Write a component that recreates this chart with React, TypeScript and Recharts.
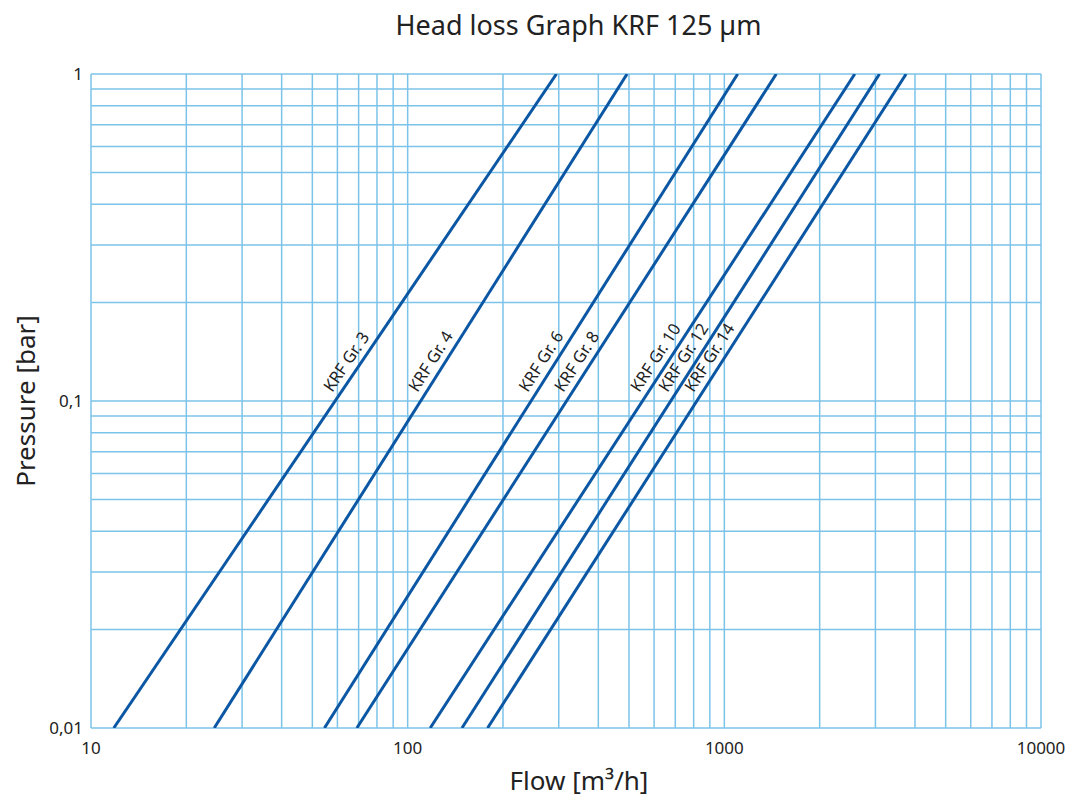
import React from "react";
import { LineChart, Line, XAxis, YAxis, CartesianGrid, ReferenceDot } from "recharts";

// KRF filter sizes, each drawn as a straight line on log-log paper
const grades = ["KRF Gr. 3", "KRF Gr. 4", "KRF Gr. 6", "KRF Gr. 8", "KRF Gr. 10", "KRF Gr. 12", "KRF Gr. 14"];
// flow [m3/h] where each line crosses 0,01 bar and 1 bar
const flowAtLow = [11.8, 24.5, 54.6, 69.1, 117.8, 148.4, 178.8];
const flowAtHigh = [295, 493, 1102, 1459, 2582, 3090, 3750];
const pressureRange = [0.01, 1];

const xTicks = [
  10, 20, 30, 40, 50, 60, 70, 80, 90,
  100, 200, 300, 400, 500, 600, 700, 800, 900,
  1000, 2000, 3000, 4000, 5000, 6000, 7000, 8000, 9000,
  10000,
];
const yTicks = [
  0.01, 0.02, 0.03, 0.04, 0.05, 0.06, 0.07, 0.08, 0.09,
  0.1, 0.2, 0.3, 0.4, 0.5, 0.6, 0.7, 0.8, 0.9,
  1,
];
const xLabels: Record<number, string> = { 10: "10", 100: "100", 1000: "1000", 10000: "10000" };
const yLabels: Record<number, string> = { 0.01: "0,01", 0.1: "0,1", 1: "1" };

const W = 1075;
const H = 804;
const M = { top: 74, right: 34, bottom: 76, left: 91 };
const plotW = W - M.left - M.right;
const plotH = H - M.top - M.bottom;
const LABEL_P = 0.103;

const GRID = "#7cc3ea";
const LINE = "#0b57a4";
const FONT = "'Noto Sans', sans-serif";

const series = grades.map((name, i) => ({
  name,
  data: [
    { q: flowAtLow[i], p: pressureRange[0] },
    { q: flowAtHigh[i], p: pressureRange[1] },
  ],
}));

function labelPoint(i: number) {
  const l0 = Math.log10(flowAtLow[i]);
  const l1 = Math.log10(flowAtHigh[i]);
  const t = (Math.log10(LABEL_P) - Math.log10(pressureRange[0])) / 2;
  const q = Math.pow(10, l0 + t * (l1 - l0));
  const dx = ((l1 - l0) * plotW) / 3;
  const angle = (Math.atan2(plotH, dx) * 180) / Math.PI;
  return { q, angle };
}

export default function App() {
  return (
    <div style={{ position: "absolute", left: 0, top: 0, width: W, height: H, fontFamily: FONT, background: "#fff" }}>
      <div style={{ position: "absolute", top: 6, left: 0, width: W, paddingLeft: 41, textAlign: "center", fontSize: 27, color: "#222" }}>
        Head loss Graph KRF 125 µm
      </div>
      <LineChart width={W} height={H} margin={{ top: M.top, right: M.right, left: 0, bottom: 0 }}>
        <CartesianGrid stroke={GRID} strokeWidth={1.5} horizontalValues={yTicks} verticalValues={xTicks} />
        <XAxis
          dataKey="q"
          type="number"
          scale="log"
          domain={[10, 10000]}
          ticks={xTicks}
          interval={0}
          allowDataOverflow
          height={M.bottom}
          axisLine={false}
          tickLine={false}
          tickMargin={8}
          tick={{ fill: "#222", fontSize: 17, fontFamily: FONT }}
          tickFormatter={(v: number) => xLabels[v] ?? ""}
        />
        <YAxis
          dataKey="p"
          type="number"
          scale="log"
          domain={[0.01, 1]}
          ticks={yTicks}
          interval={0}
          allowDataOverflow
          width={M.left}
          axisLine={false}
          tickLine={false}
          tick={{ fill: "#222", fontSize: 17, fontFamily: FONT }}
          tickFormatter={(v: number) => yLabels[v] ?? ""}
        />
        {series.map((s) => (
          <Line
            key={s.name}
            data={s.data}
            dataKey="p"
            type="linear"
            stroke={LINE}
            strokeWidth={3}
            dot={false}
            isAnimationActive={false}
          />
        ))}
        {grades.map((name, i) => {
          const { q, angle } = labelPoint(i);
          const rad = (angle * Math.PI) / 180;
          const off = 7;
          return (
            <ReferenceDot
              key={name}
              x={q}
              y={LABEL_P}
              r={0}
              shape={(props: any) => {
                const x = props.cx - off * Math.sin(rad);
                const y = props.cy - off * Math.cos(rad);
                return (
                  <text
                    x={x}
                    y={y}
                    fontSize={16.5}
                    fontFamily={FONT}
                    fill="#222"
                    transform={`rotate(${-angle} ${x} ${y})`}
                  >
                    {name}
                  </text>
                );
              }}
            />
          );
        })}
      </LineChart>
      <div style={{ position: "absolute", top: 762, left: M.left + 13, width: plotW, textAlign: "center", fontSize: 26, color: "#222" }}>
        Flow [m³/h]
      </div>
      <div
        style={{
          position: "absolute",
          left: 25,
          top: 401,
          transform: "translate(-50%, -50%) rotate(-90deg)",
          whiteSpace: "nowrap",
          fontSize: 26,
          color: "#222",
        }}
      >
        Pressure [bar]
      </div>
    </div>
  );
}
